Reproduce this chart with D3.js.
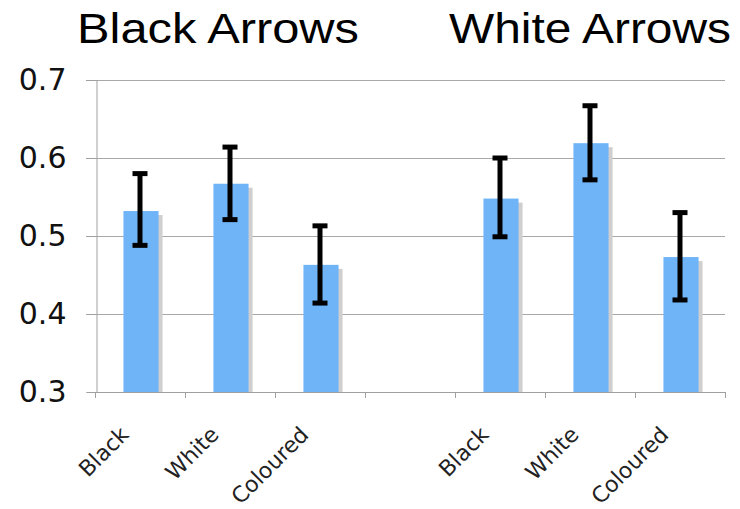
<!DOCTYPE html>
<html>
<head>
<meta charset="utf-8">
<script src="https://cdn.jsdelivr.net/npm/d3@7"></script>
<style>
  html, body { margin: 0; padding: 0; background: #ffffff; }
  svg { display: block; }
</style>
</head>
<body>
<svg id="chart" width="740" height="509"></svg>
<script>
// ---- data ----
const groups = ["Black Arrows", "White Arrows"];
const categories = ["Black", "White", "Coloured"];
const blackMeans = [0.532, 0.567, 0.463];
const blackLow   = [0.488, 0.521, 0.414];
const blackHigh  = [0.580, 0.614, 0.513];
const whiteMeans = [0.548, 0.619, 0.473];
const whiteLow   = [0.499, 0.572, 0.418];
const whiteHigh  = [0.600, 0.667, 0.530];
const yTicks = [0.3, 0.4, 0.5, 0.6, 0.7];

const seriesMeans = [blackMeans, whiteMeans];
const seriesLow = [blackLow, whiteLow];
const seriesHigh = [blackHigh, whiteHigh];

// build rows: slot index = group*4 + category (one empty slot between groups)
const rows = [];
groups.forEach((g, gi) => {
  categories.forEach((c, ci) => {
    rows.push({ slot: gi * 4 + ci, group: g, cat: c,
      mean: seriesMeans[gi][ci], lo: seriesLow[gi][ci], hi: seriesHigh[gi][ci] });
  });
});
const nSlots = groups.length * 4 - 1;

// ---- layout ----
const svg = d3.select("#chart");
const plotLeft = 96, plotRight = 726, plotTop = 80, plotBottom = 392;

const x = d3.scaleBand().domain(d3.range(nSlots)).range([plotLeft, plotRight]).paddingInner(0).paddingOuter(0);
const y = d3.scaleLinear().domain([0.3, 0.7]).range([plotBottom, plotTop]);

const barW = x.bandwidth() * 0.39;

// gridlines
svg.append("g").selectAll("line").data(yTicks.slice(1)).join("line")
  .attr("x1", plotLeft - 10).attr("x2", plotRight - 1)
  .attr("y1", d => Math.round(y(d)) + 0.5).attr("y2", d => Math.round(y(d)) + 0.5)
  .attr("stroke", "#a8a8a8").attr("stroke-width", 1);

// y axis
const yAxis = d3.axisLeft(y).tickValues(yTicks).tickSize(10).tickFormat(d3.format(".1f"));
const yg = svg.append("g").attr("transform", `translate(${plotLeft + 0.5},0)`).call(yAxis);
yg.select(".domain").attr("stroke", "#a0a0a0");
yg.selectAll(".tick line").attr("stroke", "#a0a0a0");
yg.selectAll(".tick text")
  .attr("x", -30)
  .attr("fill", "#111")
  .style("font-family", "'DejaVu Sans', Verdana, sans-serif")
  .style("font-size", "30px");

// x axis (ticks at category boundaries)
const boundaries = d3.range(nSlots + 1).map(i => plotLeft + i * x.step());
const xg = svg.append("g");
xg.append("line").attr("x1", plotLeft).attr("x2", plotRight - 1)
  .attr("y1", plotBottom + 0.5).attr("y2", plotBottom + 0.5).attr("stroke", "#a0a0a0");
xg.selectAll("line.tk").data(boundaries).join("line").attr("class", "tk")
  .attr("x1", d => Math.round(d) - 0.5).attr("x2", d => Math.round(d) - 0.5)
  .attr("y1", plotBottom).attr("y2", plotBottom + 6).attr("stroke", "#a0a0a0");

// bar shadows
svg.append("g").selectAll("rect").data(rows).join("rect")
  .attr("x", d => x(d.slot) + (x.bandwidth() - barW) / 2 + 4)
  .attr("y", d => y(d.mean) + 4)
  .attr("width", barW)
  .attr("height", d => plotBottom - y(d.mean) - 4)
  .attr("fill", "#cfcfcf");

// bars
svg.append("g").selectAll("rect").data(rows).join("rect")
  .attr("x", d => x(d.slot) + (x.bandwidth() - barW) / 2)
  .attr("y", d => y(d.mean))
  .attr("width", barW)
  .attr("height", d => plotBottom - y(d.mean))
  .attr("fill", "#70b4f8");

// error bars
const eg = svg.append("g").selectAll("g").data(rows).join("g");
const cx = d => x(d.slot) + x.bandwidth() / 2 - 1;
eg.append("line")
  .attr("x1", cx).attr("x2", cx)
  .attr("y1", d => y(d.hi)).attr("y2", d => y(d.lo))
  .attr("stroke", "#000").attr("stroke-width", 5);
["hi", "lo"].forEach(k => {
  eg.append("line")
    .attr("x1", d => cx(d) - 7.5).attr("x2", d => cx(d) + 7.5)
    .attr("y1", d => y(d[k])).attr("y2", d => y(d[k]))
    .attr("stroke", "#000").attr("stroke-width", 5);
});

// x labels rotated
svg.append("g").selectAll("text").data(rows).join("text")
  .attr("transform", d => `translate(${x(d.slot) + x.bandwidth() / 2 - 11},${plotBottom + 44}) rotate(-45)`)
  .attr("text-anchor", "end")
  .attr("fill", "#222")
  .style("font-family", "'DejaVu Sans', Verdana, sans-serif")
  .style("font-size", "22px")
  .text(d => d.cat);

// group titles
const titleCenters = [218, 590];
svg.append("g").selectAll("text").data(groups).join("text")
  .attr("x", (d, i) => titleCenters[i])
  .attr("y", 43)
  .attr("text-anchor", "middle")
  .attr("fill", "#000")
  .attr("textLength", 282)
  .attr("lengthAdjust", "spacingAndGlyphs")
  .style("font-family", "'Liberation Sans', Arial, Helvetica, sans-serif")
  .style("font-size", "43px")
  .text(d => d);
</script>
</body>
</html>
